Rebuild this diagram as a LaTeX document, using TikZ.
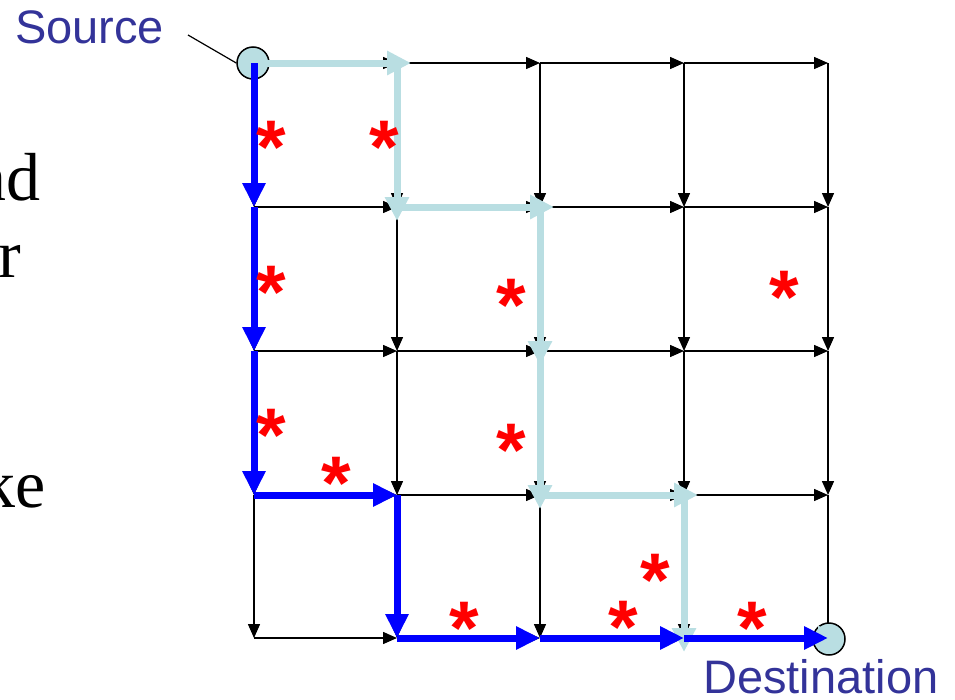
\documentclass[tikz,border=0pt]{standalone}
\usepackage{fontspec}
\setmainfont{Liberation Serif}
\newfontfamily\arialf{Liberation Sans}
\usetikzlibrary{arrows.meta}
\definecolor{lblue}{RGB}{185,222,226}
\definecolor{pblue}{RGB}{0,0,255}
\definecolor{labblue}{RGB}{51,51,153}
\tikzset{
  blk/.style={draw=black, line width=1.5pt, -{Triangle[length=14pt,width=12pt]}},
  lbpath/.style={draw=lblue, line width=7pt, -{Triangle[length=24pt,width=23pt]}, shorten >=-14pt},
  bpath/.style={draw=pblue, line width=7pt, -{Triangle[length=24pt,width=22pt]}},
  endpt/.style={circle, draw=black, line width=1.5pt, fill=lblue, minimum size=32pt, inner sep=0pt},
  lbl/.style={font=\arialf\fontsize{47}{47}\selectfont, text=labblue, inner sep=0pt},
  serif/.style={font=\fontsize{68}{68}\selectfont, text=black, inner sep=0pt, anchor=base east},
  star/.style={font=\arialf\bfseries\fontsize{76}{76}\selectfont, text=red, inner sep=0pt, anchor=base},
  pointer/.style={draw=black, line width=1.2pt}
}
\begin{document}
\begin{tikzpicture}[x=1pt, y={(0pt,-1pt)}]
\useasboundingbox (0,0) rectangle (955,699);
\clip (0,0) rectangle (955,699);
% grid coordinates: n<col><row>
\foreach \x [count=\i from 0] in {254,397,540,684,828}{
  \foreach \y [count=\j from 0] in {63,207,351,495,638}{
    \coordinate (n\i\j) at (\x,\y);
  }
}
% black grid arrows
\foreach \i/\k in {0/1,1/2,2/3,3/4}{
  \foreach \j in {0,...,4}{
    \draw[blk] (n\i\j) -- (n\k\j);
    \draw[blk] (n\j\i) -- (n\j\k);
  }
}
% end points
\node[endpt] (src) at (253,63) {};
\node[endpt] (dst) at (829,639) {};
% light blue path
\draw[lbpath] (n00) -- (n10);
\draw[lbpath] (n10) -- (n11);
\draw[lbpath] (n11) -- (n21);
\draw[lbpath] (n21) -- (n22);
\draw[lbpath] (n22) -- (n23);
\draw[lbpath] (n23) -- (n33);
\draw[lbpath] (n33) -- (n34);
\draw[lbpath] (n34) -- (n44);
% blue path
\draw[bpath] (n00) -- (n01);
\draw[bpath] (n01) -- (n02);
\draw[bpath] (n02) -- (n03);
\draw[bpath] (n03) -- (n13);
\draw[bpath] (n13) -- (n14);
\draw[bpath] (n14) -- (n24);
\draw[bpath] (n24) -- (n34);
\draw[bpath] (n34) -- (n44);
% labels
\node[lbl, anchor=base west] (srclbl) at (15,43) {Source};
\coordinate (srcline) at (188,35);
\draw[pointer] (srcline) -- (src.west);
\node[lbl, anchor=base west] (dstlbl) at (703,693) {Destination};
% cut-off slide text at left
\node[serif] (t1) at (41,200) {nd};
\node[serif] (t2) at (21,277) {r};
\node[serif] (t3) at (46,507) {ke};
% asterisks
\foreach \sx/\sy [count=\s] in {271/137,384/137,271/282,511/295,784/287,271/425,511/440,336/473,655/570,464/618,623/617,752/618}{
  \node[star] (st\s) at (\sx,\sy+36) {*};
}
\end{tikzpicture}
\end{document}
